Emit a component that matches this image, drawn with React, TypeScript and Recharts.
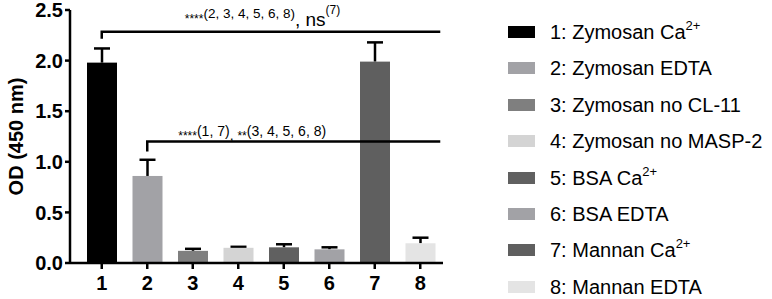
import React from "react";
import { Bar, BarChart, Cell, ReferenceLine, XAxis, YAxis } from "recharts";

const categories = ["1", "2", "3", "4", "5", "6", "7", "8"];
const means = [1.98, 0.86, 0.12, 0.15, 0.155, 0.135, 1.99, 0.195];
const errors = [0.14, 0.16, 0.02, 0.01, 0.03, 0.02, 0.19, 0.055];
const colors = ["#000000", "#a2a2a6", "#7f7f7f", "#d4d4d4", "#606060", "#a2a2a6", "#5f5f5f", "#e4e4e4"];
const legendLabels = [
  ["1: Zymosan Ca", "2+"],
  ["2: Zymosan EDTA", ""],
  ["3: Zymosan no CL-11", ""],
  ["4: Zymosan no MASP-2", ""],
  ["5: BSA Ca", "2+"],
  ["6: BSA EDTA", ""],
  ["7: Mannan Ca", "2+"],
  ["8: Mannan EDTA", ""],
];
const yTicks = [0, 0.5, 1, 1.5, 2, 2.5];
const bracketTop = 2.285;
const bracketLow = 1.2;

const data = categories.map((c, i) => ({ name: c, mean: means[i], err: errors[i] }));

const FONT = '"Liberation Sans", Arial, sans-serif';

function BarWithError(props: any) {
  const { x, y, width, height, payload } = props;
  const unit = height / payload.mean;
  const top = y - payload.err * unit;
  const cx = x + width / 2;
  return (
    <g>
      <line x1={cx} x2={cx} y1={y} y2={top} stroke="#000" strokeWidth={2.5} />
      <line x1={cx - 8} x2={cx + 8} y1={top} y2={top} stroke="#000" strokeWidth={2.5} />
      <rect x={x} y={y} width={width} height={height} fill={props.fill} />
    </g>
  );
}

function TopBracket(props: any) {
  const { x1, y1, x2 } = props;
  const band = (x2 - x1) / 7;
  const end = x2 + band * 0.44;
  return (
    <g fontFamily={FONT} fill="#000">
      <path d={`M${x1},${y1 + 7} V${y1} H${end}`} fill="none" stroke="#000" strokeWidth={2.5} />
      <text x={x1 + 83} y={y1 - 14}>
        <tspan fontSize={12} dy={5}>****</tspan>
        <tspan fontSize={13.5} dy={-5}>(2, 3, 4, 5, 6, 8)</tspan>
        <tspan fontSize={19} dy={8}>, ns</tspan>
        <tspan fontSize={12} dy={-12}>(7)</tspan>
      </text>
    </g>
  );
}

function LowBracket(props: any) {
  const { x1, y1, x2 } = props;
  const band = (x2 - x1) / 6;
  const end = x2 + band * 0.44;
  return (
    <g fontFamily={FONT} fill="#000">
      <path d={`M${x1},${y1 + 10} V${y1} H${end}`} fill="none" stroke="#000" strokeWidth={2.5} />
      <text x={x1 + 31} y={y1 - 6}>
        <tspan fontSize={12} dy={4}>****</tspan>
        <tspan fontSize={14} dy={-4}>(1, 7)</tspan>
        <tspan fontSize={14} dy={4}>, </tspan>
        <tspan fontSize={12} dy={0}>**</tspan>
        <tspan fontSize={14} dy={-4}>(3, 4, 5, 6, 8)</tspan>
      </text>
    </g>
  );
}

function YLabel(props: any) {
  const { viewBox } = props;
  const cx = viewBox.x + 1;
  const cy = viewBox.y + viewBox.height / 2;
  return (
    <text
      x={cx}
      y={cy}
      transform={`rotate(-90 ${cx} ${cy})`}
      textAnchor="middle"
      dominantBaseline="central"
      fill="#000"
      fontSize={20}
      fontWeight="bold"
      fontFamily={FONT}
    >
      OD (450 nm)
    </text>
  );
}

function Legend() {
  return (
    <div style={{ position: "absolute", left: 508, top: 0, fontFamily: FONT, fontSize: 20, color: "#000" }}>
      {legendLabels.map(([label, sup], i) => (
        <div
          key={label}
          style={{ position: "absolute", top: 32 + i * 36.4 - 12, height: 24, display: "flex", alignItems: "center", whiteSpace: "nowrap" }}
        >
          <div style={{ width: 27, height: 12, background: colors[i], marginRight: 15 }} />
          <span style={{ lineHeight: "24px" }}>
            {label}
            {sup && <sup style={{ fontSize: 13, verticalAlign: "9px", lineHeight: 0 }}>{sup}</sup>}
          </span>
        </div>
      ))}
    </div>
  );
}

export default function App() {
  return (
    <div style={{ position: "fixed", left: 0, top: 0, width: 772, height: 299, background: "#fff" }}>
      <BarChart width={772} height={299} data={data} margin={{ top: 10, right: 329, bottom: 6, left: 15 }}>
        <XAxis
          dataKey="name"
          padding={{ left: 9, right: 0 }}
          axisLine={{ stroke: "#000", strokeWidth: 2.5 }}
          tickLine={{ stroke: "#000", strokeWidth: 2.5 }}
          tickSize={6}
          tickMargin={7}
          height={30}
          tick={{ fill: "#000", fontSize: 20, fontWeight: "bold", fontFamily: FONT }}
        />
        <YAxis
          domain={[0, 2.5]}
          ticks={yTicks}
          tickFormatter={(v: number) => v.toFixed(1)}
          width={55}
          axisLine={{ stroke: "#000", strokeWidth: 2.5 }}
          tickLine={{ stroke: "#000", strokeWidth: 2.5 }}
          tickSize={5}
          tickMargin={2}
          interval={0}
          tick={{ fill: "#000", fontSize: 20, fontWeight: "bold", fontFamily: FONT }}
          label={<YLabel />}
        />
        <Bar dataKey="mean" barSize={30} isAnimationActive={false} shape={BarWithError}>
          {data.map((d, i) => (
            <Cell key={d.name} fill={colors[i]} />
          ))}
        </Bar>
        <ReferenceLine
          segment={[{ x: "1", y: bracketTop }, { x: "8", y: bracketTop }]}
          ifOverflow="visible"
          shape={TopBracket}
        />
        <ReferenceLine
          segment={[{ x: "2", y: bracketLow }, { x: "8", y: bracketLow }]}
          ifOverflow="visible"
          shape={LowBracket}
        />
      </BarChart>
      <Legend />
    </div>
  );
}
